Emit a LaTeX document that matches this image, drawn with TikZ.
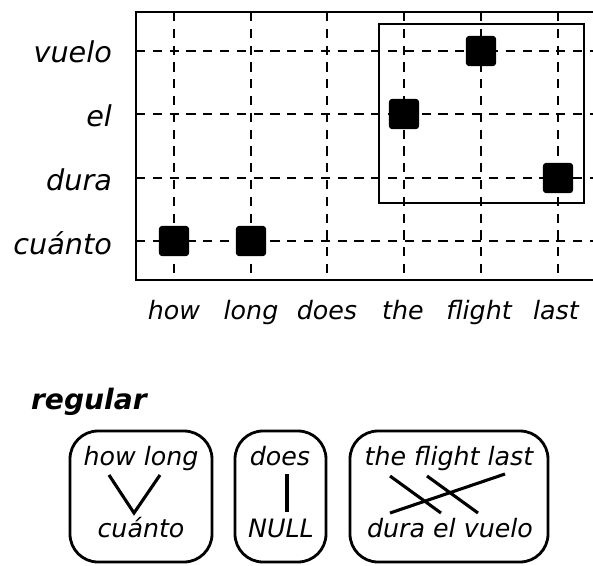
\documentclass[tikz,border=0pt]{standalone}
\usepackage{fontspec}
\setmainfont{DejaVu Sans}
\begin{document}
\begin{tikzpicture}[x=0.025cm,y=-0.025cm,line width=1.6pt]
\tikzset{word/.style={font=\fontsize{18}{20}\selectfont\itshape,inner sep=0pt,anchor=base},
         rowword/.style={font=\fontsize{20.4}{22}\selectfont\itshape,anchor=base east,inner sep=0pt},
         cell/.style={fill=black,rounded corners=2.5pt,minimum size=0.76cm,inner sep=0pt},
         gridline/.style={dash pattern=on 0.23cm off 0.19cm},
         pairbox/.style={rounded corners=0.7cm,line width=2pt}}
\useasboundingbox (0,0) rectangle (593,566);

% the alignment grid
\draw (593,12) -- (136,12) -- (136,280) -- (593,280);
\foreach \x in {174,251,327,404,481,558} \draw[gridline] (\x,12) -- (\x,280);
\foreach \y in {51,114,178,241} \draw[gridline] (136,\y) -- (593,\y);

% row and column words
\foreach \w/\y [count=\i] in {vuelo/62, el/126, dura/190, cuánto/254}
    \node[rowword] (row\i) at (113,\y) {\w};
\foreach \w/\x [count=\i] in {how/174, long/251, does/327, the/403, flight/479, last/556}
    \node[word] (col\i) at (\x,319) {\w};

% aligned word pairs
\foreach \x/\y [count=\i] in {174/241, 251/241, 404/114, 481/51, 558/178}
    \node[cell] (cell\i) at (\x,\y) {};

% the phrase block
\draw (379,24) rectangle (584,203);

% phrase pairs
\node[font=\fontsize{20}{22}\selectfont\bfseries\itshape,anchor=base west,inner sep=0pt] (regular) at (30,409) {regular};
\foreach \a/\b in {70/212, 235/326, 350/548} \draw[pairbox] (\a,431) rectangle (\b,562);

\node[word] (src1) at (141,465) {how long};
\node[word] (tgt1) at (141,537) {cuánto};
\node[word] (src2) at (280,465) {does};
\node[word] (tgt2) at (281,537) {NULL};
\node[word] (src3) at (449,465) {the flight last};
\node[word] (tgt3) at (450,537) {dura el vuelo};

\draw[line width=2.2pt] (109,475) -- (134,513) -- (160,475);
\draw[line width=2.2pt] (287,474) -- (287,512);
\draw[line width=2.2pt] (390,476) -- (441,513);
\draw[line width=2.2pt] (427,476) -- (478,513);
\draw[line width=2.2pt] (390,513) -- (505,474);
\end{tikzpicture}
\end{document}
